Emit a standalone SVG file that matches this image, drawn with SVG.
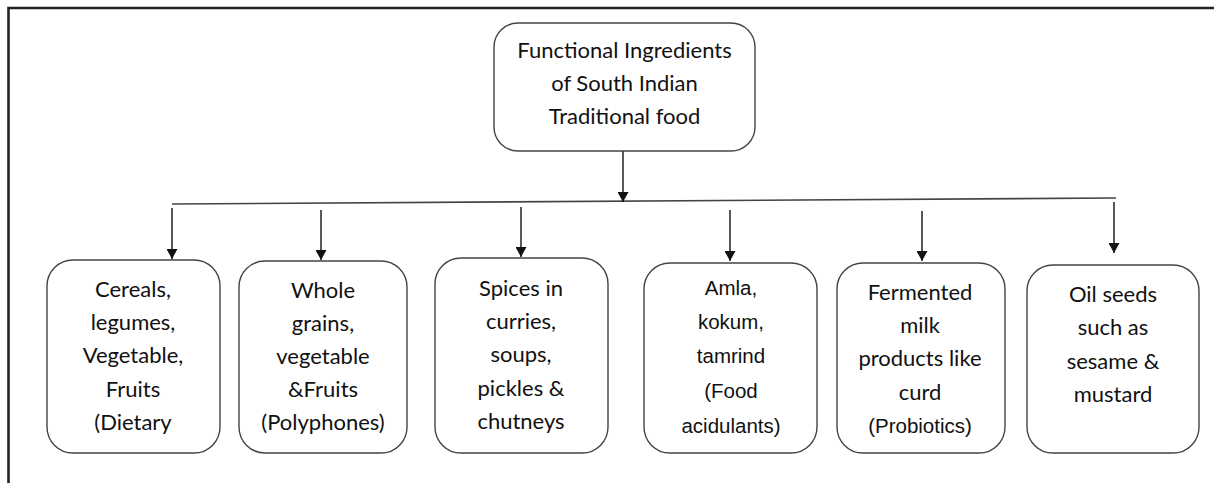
<svg xmlns="http://www.w3.org/2000/svg" width="1214" height="483" viewBox="0 0 1214 483">
<style>
.box{fill:#fff;stroke:#444;stroke-width:1.4}
.c{font-family:Lato,"Open Sans","Liberation Sans",sans-serif;font-size:22px;fill:#111;text-anchor:middle}
.a{font-family:"Liberation Sans",Arial,sans-serif;font-size:20.5px;fill:#111;text-anchor:middle}
.ln{stroke:#111;stroke-width:1.4;fill:none}
.hl{stroke:#444;stroke-width:1.6;fill:none}
</style>
<defs>
<marker id="ah" markerWidth="10" markerHeight="11" refX="10" refY="5.5" orient="auto" markerUnits="userSpaceOnUse">
<path d="M0,0 L10,5.5 L0,11 Z" fill="#111"/>
</marker>
</defs>
<rect width="1214" height="483" fill="#fff"/>
<path d="M8.5,483 V8 H1214" stroke="#222" stroke-width="2.6" fill="none"/>
<g id="connectors">
<line class="hl" x1="172" y1="204" x2="1116" y2="198"/>
<line class="ln" x1="623" y1="151" x2="623" y2="202" marker-end="url(#ah)"/>
<line class="ln" x1="172" y1="208" x2="172" y2="259" marker-end="url(#ah)"/>
<line class="ln" x1="321" y1="210" x2="321" y2="260" marker-end="url(#ah)"/>
<line class="ln" x1="521" y1="207" x2="521" y2="257" marker-end="url(#ah)"/>
<line class="ln" x1="730" y1="210" x2="730" y2="261" marker-end="url(#ah)"/>
<line class="ln" x1="922" y1="211" x2="922" y2="261" marker-end="url(#ah)"/>
<line class="ln" x1="1114" y1="202" x2="1114" y2="253" marker-end="url(#ah)"/>
</g>
<g id="root">
<rect class="box" x="494" y="23" width="261" height="128" rx="24"/>
<text class="c" x="624.5" y="58">Functional Ingredients</text>
<text class="c" x="624.5" y="91">of South Indian</text>
<text class="c" x="624.5" y="124">Traditional food</text>
</g>
<g id="n1">
<rect class="box" x="47" y="260" width="173" height="193" rx="26"/>
<text class="c" x="133" y="297">Cereals,</text>
<text class="c" x="133" y="330">legumes,</text>
<text class="c" x="133" y="363">Vegetable,</text>
<text class="c" x="133" y="397">Fruits</text>
<text class="c" x="133" y="430">(Dietary</text>
</g>
<g id="n2">
<rect class="box" x="239" y="261" width="168" height="192" rx="26"/>
<text class="c" x="323" y="298">Whole</text>
<text class="c" x="323" y="331">grains,</text>
<text class="c" x="323" y="364">vegetable</text>
<text class="c" x="323" y="397">&amp;Fruits</text>
<text class="c" x="323" y="430">(Polyphones)</text>
</g>
<g id="n3">
<rect class="box" x="435" y="258" width="173" height="195" rx="26"/>
<text class="c" x="521" y="296">Spices in</text>
<text class="c" x="521" y="329">curries,</text>
<text class="c" x="521" y="362">soups,</text>
<text class="c" x="521" y="396">pickles &amp;</text>
<text class="c" x="521" y="429">chutneys</text>
</g>
<g id="n4">
<rect class="box" x="644" y="263" width="173" height="190" rx="26"/>
<text class="a" x="731" y="295">Amla,</text>
<text class="a" x="731" y="329">kokum,</text>
<text class="a" x="731" y="363">tamrind</text>
<text class="a" x="731" y="398">(Food</text>
<text class="a" x="731" y="433">acidulants)</text>
</g>
<g id="n5">
<rect class="box" x="837" y="263" width="168" height="190" rx="26"/>
<text class="c" x="920" y="300">Fermented</text>
<text class="c" x="920" y="333">milk</text>
<text class="c" x="920" y="366">products like</text>
<text class="c" x="920" y="400">curd</text>
<text class="a" x="920" y="433">(Probiotics)</text>
</g>
<g id="n6">
<rect class="box" x="1027" y="265" width="172" height="188" rx="26"/>
<text class="c" x="1113" y="302">Oil seeds</text>
<text class="c" x="1113" y="335">such as</text>
<text class="c" x="1113" y="369">sesame &amp;</text>
<text class="c" x="1113" y="402">mustard</text>
</g>
</svg>
